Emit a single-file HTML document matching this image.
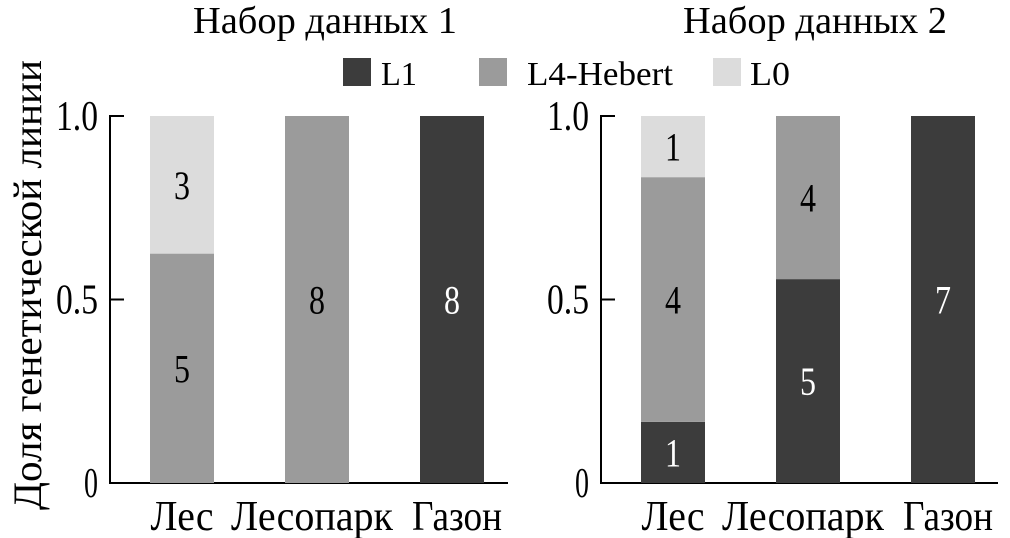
<!DOCTYPE html>
<html><head><meta charset="utf-8"><style>
html,body{margin:0;padding:0;background:#fff;}
svg{display:block;font-family:"Liberation Serif",serif;}
</style></head><body>
<svg id="chart" width="1010" height="538" viewBox="0 0 1010 538">
<text x="325" y="33" font-size="38" text-anchor="middle" textLength="264" lengthAdjust="spacingAndGlyphs">Набор данных 1</text>
<text x="815" y="33" font-size="38" text-anchor="middle" textLength="264" lengthAdjust="spacingAndGlyphs">Набор данных 2</text>
<g>
<rect x="343" y="58" width="28" height="28" fill="#3c3c3c"/>
<text x="381" y="85" font-size="34" textLength="36" lengthAdjust="spacingAndGlyphs">L1</text>
<rect x="479" y="58" width="28" height="28" fill="#9b9b9b"/>
<text x="527" y="85" font-size="34" textLength="146" lengthAdjust="spacingAndGlyphs">L4-Hebert</text>
<rect x="713" y="58" width="28" height="28" fill="#dcdcdc"/>
<text x="750" y="85" font-size="34" textLength="40" lengthAdjust="spacingAndGlyphs">L0</text>
</g>
<text transform="translate(41,285) rotate(-90)" font-size="40" text-anchor="middle" textLength="450" lengthAdjust="spacingAndGlyphs">Доля генетической линии</text>
<g id="plots"></g>
</svg>
<script>
const categories = ["Лес", "Лесопарк", "Газон"];
const seriesNames = ["L1", "L4-Hebert", "L0"];
const set1L1 = [0, 0, 8];
const set1L4 = [5, 8, 0];
const set1L0 = [3, 0, 0];
const set2L1 = [1, 5, 7];
const set2L4 = [4, 4, 0];
const set2L0 = [1, 0, 0];
const yTicks = [0, 0.5, 1.0];
const yTickLabels = ["0", "0.5", "1.0"];

const NS = "http://www.w3.org/2000/svg";
const colors = ["#3c3c3c", "#9b9b9b", "#dcdcdc"];
const textColors = ["#fff", "#000", "#000"];
const catWidths = [63, 162, 90];
const catCenters = [0, -5, 5];
const yTop = 116, yBot = 483;
function yScale(v){ return yBot - v * (yBot - yTop); }
function mk(tag, attrs, parent){ const e = document.createElementNS(NS, tag); for (const k in attrs) e.setAttribute(k, attrs[k]); parent.appendChild(e); return e; }

function panel(idx, axisX, axisEnd, L1, L4, L0){
  const g = mk("g", {}, document.getElementById("plots"));
  
  
  const ax = mk("path", {d: `M${axisX+14},${yTop}H${axisX}V${yBot}H${axisEnd}M${axisX},${yScale(0.5)}H${axisX+14}`, stroke: "#000", "stroke-width": 2, fill: "none"}, g);
  
  
  yTicks.forEach((t, i) => {
    const s = yTickLabels[i];
    const tx = mk("text", {x: axisX - 12, y: yScale(t) + 14, "font-size": 42, "text-anchor": "end", textLength: s.length * 14, lengthAdjust: "spacingAndGlyphs"}, g);
    tx.textContent = s;
    
    
  });
  const firstBar = axisX + 40, step = 135, bw = 64;
  categories.forEach((c, i) => {
    const vals = [L1[i], L4[i], L0[i]];
    const tot = vals.reduce((a, b) => a + b, 0);
    const x = firstBar + i * step;
    let cum = 0;
    vals.forEach((v, s) => {
      if (!v) return;
      const y0 = yScale(cum / tot), y1 = yScale((cum + v) / tot);
      cum += v;
      const r = mk("rect", {x: x, y: y1, width: bw, height: y0 - y1, fill: colors[s]}, g);
      
      
      const t = mk("text", {x: x + bw/2, y: (y0 + y1)/2 + 14, "font-size": 40, "text-anchor": "middle", fill: textColors[s], textLength: 16, lengthAdjust: "spacingAndGlyphs"}, g);
      t.textContent = v;
      
      
    });
    const cl = mk("text", {x: x + bw/2 + catCenters[i], y: 530, "font-size": 42, "text-anchor": "middle", textLength: catWidths[i], lengthAdjust: "spacingAndGlyphs"}, g);
    cl.textContent = c;
    
    
  });
}
panel(1, 110, 508, set1L1, set1L4, set1L0);
panel(2, 601, 998, set2L1, set2L4, set2L0);
</script>
</body></html>
